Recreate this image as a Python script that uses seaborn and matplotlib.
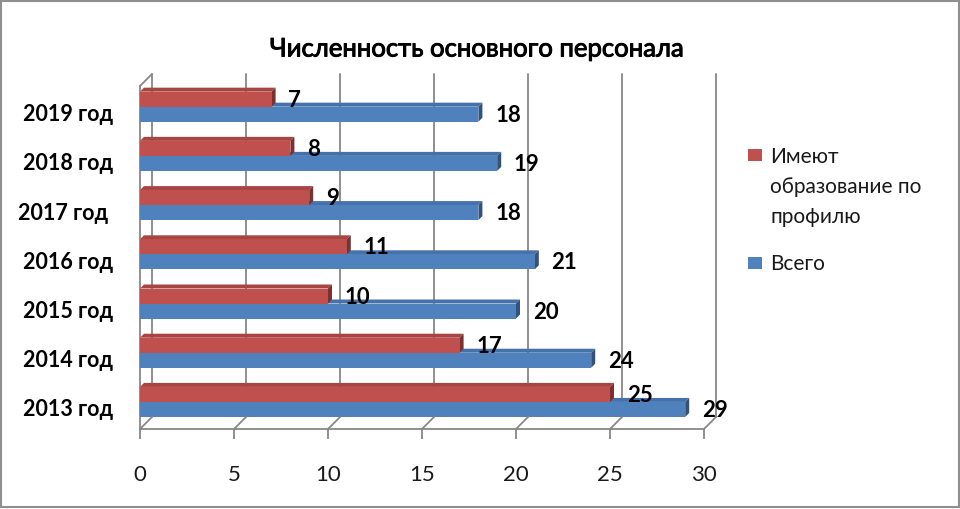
import matplotlib
matplotlib.use("Agg")
import matplotlib.pyplot as plt
import matplotlib.transforms as mtransforms
import matplotlib.patheffects as pe
import seaborn as sns
import pandas as pd
from matplotlib.patches import Rectangle, Polygon
from matplotlib.lines import Line2D

years = ["2019 год", "2018 год", "2017 год ", "2016 год", "2015 год", "2014 год", "2013 год"]
profile = [7, 8, 9, 11, 10, 17, 25]
total = [18, 19, 18, 21, 20, 24, 29]
series = ["Имеют образование по профилю", "Всего"]
legend_lines = [["Имеют", "образование по", "профилю"], ["Всего"]]
title = "Численность основного персонала"
xticks = [0, 5, 10, 15, 20, 25, 30]

sns.set_theme(style="white")
plt.rcParams['font.family'] = ['Lato', 'DejaVu Sans']

df = pd.DataFrame({
    "year": years * 2,
    "value": profile + total,
    "series": [series[0]] * len(years) + [series[1]] * len(years),
})

colors = ["#C0504D", "#4F81BD"]
tops = ["#A84542", "#4672AC"]
caps = ["#7F302E", "#2F5380"]
grid_c = "#878787"

W, H = 960, 510
fig = plt.figure(figsize=(W / 100, H / 100), dpi=100)
fig.patch.set_facecolor("white")
ax = fig.add_axes([140 / W, 1 - 430 / H, (704 - 140) / W, (430 - 87) / H])
ax.set_facecolor("none")

sns.barplot(data=df, y="year", x="value", hue="series", order=years,
            hue_order=series, palette=colors, width=0.61, orient="h",
            ax=ax, legend=False, saturation=1)

ax.set_xlim(0, 30)
ax.set_ylim(6.55, -0.42)

# pixel scale of data units
p00 = ax.transData.transform((0, 0))
p11 = ax.transData.transform((1, 1))
sx = abs(p11[0] - p00[0])
sy = abs(p11[1] - p00[1])
dx = 4.0 / sx
dy = 4.0 / sy

for cont in ax.containers:
    for p in cont:
        p.set_edgecolor("none")
        p.set_zorder(3)
# faces (3D look) derived from each bar
for cont, tc in zip(ax.containers, tops):
    for p in cont:
        x0, y0, w, h = p.get_x(), p.get_y(), p.get_width(), p.get_height()
        ax.add_patch(Polygon([(x0, y0), (x0 + dx, y0 - dy), (x0 + w + dx, y0 - dy), (x0 + w, y0)],
                             closed=True, facecolor=tc, edgecolor="none", zorder=2))
for cont, cc in zip(ax.containers, caps):
    for p in cont:
        x0, y0, w, h = p.get_x(), p.get_y(), p.get_width(), p.get_height()
        ax.add_patch(Polygon([(x0 + w, y0), (x0 + w + dx, y0 - dy), (x0 + w + dx, y0 + h - dy), (x0 + w, y0 + h)],
                             closed=True, facecolor=cc, edgecolor="none", zorder=2.5))

for cont in ax.containers:
    ax.bar_label(cont, padding=12, fontsize=16, fontweight="bold", color="black", zorder=5)

ax.set_xticks(xticks)
ax.set_xticklabels([str(t) for t in xticks], fontsize=16, color="#1a1a1a")
ax.tick_params(axis="x", length=7.2, width=1.3, color=grid_c, pad=18, direction="out", bottom=True)
ax.tick_params(axis="y", length=0, pad=19.5)
ylab_off = mtransforms.ScaledTranslation(0, -0.05, fig.dpi_scale_trans)
for lab in ax.get_yticklabels():
    lab.set_fontsize(15.5)
    lab.set_fontweight("bold")
    lab.set_color("black")
    lab.set_transform(lab.get_transform() + ylab_off)
ax.set_xlabel("")
ax.set_ylabel("")
ax.grid(False)
for s in ["top", "right"]:
    ax.spines[s].set_visible(False)
for s in ["left", "bottom"]:
    ax.spines[s].set_color(grid_c)
    ax.spines[s].set_linewidth(1.3)
    ax.spines[s].set_zorder(1)

# back-wall gridlines with a small depth offset, and floor connectors
depth = mtransforms.ScaledTranslation(0.12, 0.12, fig.dpi_scale_trans)
xtr = ax.get_xaxis_transform()
for v in xticks:
    ax.plot([v, v], [0, 1], transform=xtr + depth, color=grid_c, lw=1.3, zorder=1, clip_on=False)
    a = xtr.transform((v, 0))
    fig.add_artist(Line2D([a[0], a[0] + 12], [a[1], a[1] + 12], transform=mtransforms.IdentityTransform(),
                          color=grid_c, lw=1.3, zorder=1))
a = xtr.transform((0, 1))
fig.add_artist(Line2D([a[0], a[0] + 12], [a[1], a[1] + 12], transform=mtransforms.IdentityTransform(),
                      color=grid_c, lw=1.3, zorder=1))

fig.text(478 / W, 1 - 50 / H, title, ha="center", va="center", fontsize=18.5, color="black",
         path_effects=[pe.withStroke(linewidth=0.7, foreground="black")])

# legend
leg_rows = [(150, [163, 193, 223]), (258, [270])]
for (ytop, baselines), lines, c in zip(leg_rows, legend_lines, colors):
    fig.patches.append(Rectangle((748 / W, 1 - (ytop + 12) / H), 14 / W, 12 / H,
                                 transform=fig.transFigure, facecolor=c, edgecolor="none"))
    for bl, txt in zip(baselines, lines):
        fig.text(770 / W, 1 - bl / H, txt, ha="left", va="baseline", fontsize=15, color="#1a1a1a")

fig.patches.append(Rectangle((0.001, 0.004), 0.998, 0.992, transform=fig.transFigure,
                             fill=False, edgecolor="#8f8f8f", linewidth=1.5))

fig.savefig("out.png", dpi=100)
